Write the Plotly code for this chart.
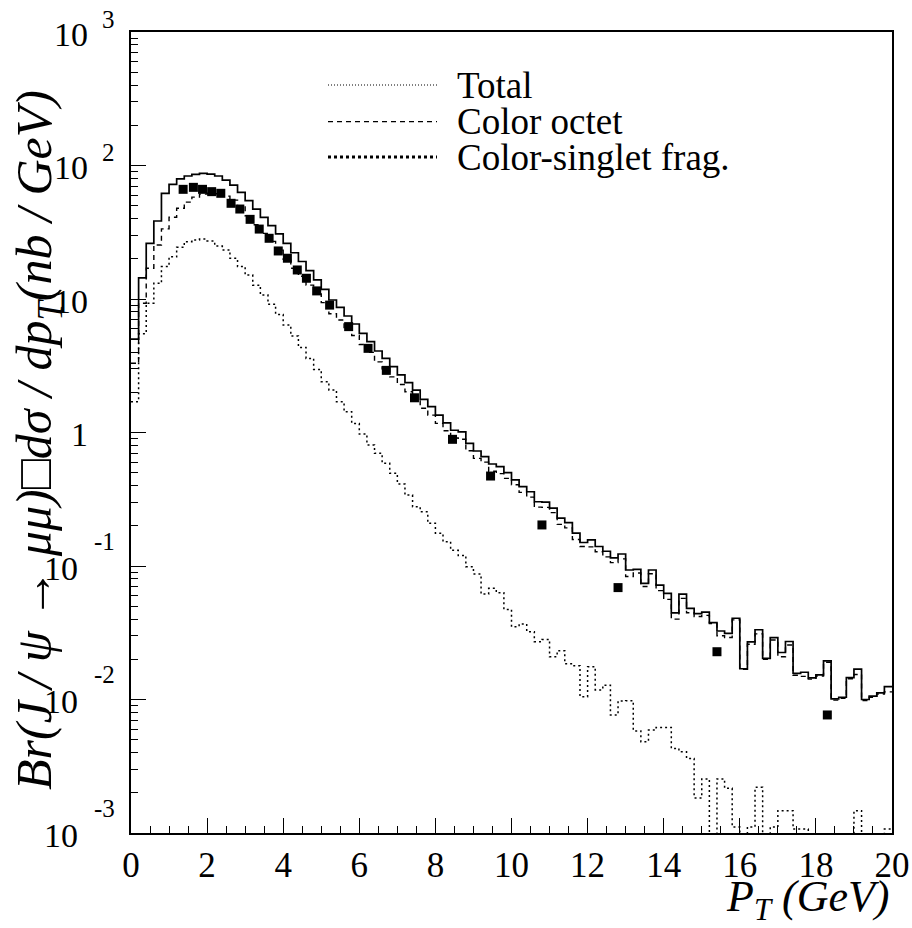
import plotly.graph_objects as go

# ---------------- data ----------------
bin_width = 0.2
n_bins = 100
bin_edges = [round(i * bin_width, 2) for i in range(n_bins + 1)]

# solid histogram (total)
total = [5.0, 14.4, 26.1, 38.4, 61.9, 72.2, 79.3, 83.4, 85.9, 87.3,
         86.3, 83.4, 77.8, 71.4, 63.0, 54.5, 47.2, 40.9, 35.5, 30.7,
         26.1, 22.2, 19.1, 16.3, 13.9, 11.8, 9.83, 8.66, 7.46, 6.50,
         5.53, 4.79, 4.08, 3.59, 3.11, 2.70, 2.36, 2.08, 1.77, 1.56,
         1.35, 1.18, 1.04, 1.01, 0.83, 0.727, 0.659, 0.581, 0.555, 0.500,
         0.441, 0.393, 0.360, 0.303, 0.301, 0.271, 0.228, 0.211, 0.176, 0.150,
         0.157, 0.140, 0.129, 0.115, 0.123, 0.0933, 0.0944, 0.0740, 0.0933, 0.0718,
         0.0624, 0.0445, 0.0615, 0.0482, 0.0440, 0.0452, 0.0377, 0.0326, 0.0313, 0.0406,
         0.0170, 0.0270, 0.0333, 0.0203, 0.0291, 0.0225, 0.0272, 0.0157, 0.0160, 0.0145,
         0.0153, 0.0195, 0.0101, 0.0104, 0.0146, 0.0169, 0.0100, 0.0106, 0.0112, 0.0125]

# dashed histogram (colour octet)
octet = [3.3, 9.3, 17.0, 25.4, 33.5, 41.0, 47.8, 53.2, 58.0, 61.0,
         61.9, 61.5, 59.0, 55.0, 49.0, 42.0, 36.0, 31.0, 27.0, 23.2,
         19.8, 17.0, 14.8, 12.7, 10.9, 9.4, 7.75, 6.96, 6.03, 5.33,
         4.56, 3.98, 3.38, 3.00, 2.61, 2.29, 2.02, 1.80, 1.52, 1.35,
         1.17, 1.03, 0.91, 0.89, 0.73, 0.64, 0.60, 0.513, 0.492, 0.453,
         0.406, 0.356, 0.328, 0.276, 0.275, 0.251, 0.205, 0.193, 0.158, 0.140,
         0.139, 0.128, 0.117, 0.106, 0.113, 0.0835, 0.0886, 0.0702, 0.0874, 0.0654,
         0.0562, 0.0400, 0.0572, 0.0446, 0.0418, 0.0427, 0.0370, 0.0300, 0.0291, 0.0395,
         0.0168, 0.0259, 0.0310, 0.0200, 0.0279, 0.0209, 0.0256, 0.0152, 0.0149, 0.0142,
         0.0150, 0.0190, 0.0099, 0.0102, 0.0143, 0.0154, 0.0098, 0.0104, 0.0110, 0.0114]

# dotted histogram (colour-singlet fragmentation); 0 = empty bin
singlet = [1.7, 5.5, 9.3, 13.1, 17.5, 20.7, 24.4, 26.9, 27.7, 28.1,
           27.2, 24.9, 23.3, 20.2, 17.5, 15.1, 12.7, 10.7, 9.12, 7.67,
           6.38, 5.28, 4.34, 3.59, 2.97, 2.40, 2.08, 1.70, 1.43, 1.17,
           0.975, 0.807, 0.699, 0.588, 0.495, 0.411, 0.340, 0.278, 0.255, 0.209,
           0.176, 0.152, 0.131, 0.120, 0.0988, 0.0871, 0.0617, 0.0680, 0.0631, 0.0473,
           0.0351, 0.0368, 0.0322, 0.0271, 0.0282, 0.0209, 0.0232, 0.0185, 0.0179, 0.0105,
           0.0176, 0.0118, 0.0128, 0.00766, 0.00975, 0.0098, 0.00582, 0.00483, 0.00590, 0.00618,
           0.00618, 0.00430, 0.00406, 0.00362, 0.00183, 0.00254, 0, 0.00254, 0.00216, 0.00111,
           0, 0.00111, 0.00220, 0, 0.00111, 0.00147, 0.00147, 0.00107, 0.00107, 0,
           0, 0, 0, 0, 0, 0.00147, 0, 0, 0, 0.00107]

# data points (filled squares)
data_pt = [1.37, 1.64, 1.88, 2.12, 2.36, 2.63, 2.86, 3.13, 3.37, 3.63,
           3.87, 4.11, 4.37, 4.61, 4.88, 5.22, 5.72, 6.23, 6.71, 7.45,
           8.45, 9.45, 10.8, 12.8, 15.4, 18.3]
data_val = [66.3, 68.6, 66.3, 63.7, 61.9, 52.1, 47.2, 39.5, 33.4, 28.5,
            22.9, 20.2, 16.5, 14.3, 11.5, 9.0, 6.21, 4.27, 2.92, 1.82,
            0.889, 0.472, 0.203, 0.0689, 0.0228, 0.00766]

x_ticks = list(range(0, 21, 2))
y_decades = [-3, -2, -1, 0, 1, 2, 3]
legend_labels = ["Total", "Color octet", "Color-singlet frag."]

FONT = "Liberation Serif"

# ---------------- figure ----------------
fig = go.Figure()


def hist_trace(vals, dash, width):
    # ROOT draws empty bins down to the axis: push them below the visible range
    yv = [v if v > 0 else 1e-6 for v in vals]
    return go.Scatter(x=bin_edges, y=yv + [yv[-1]], mode="lines",
                      line=dict(shape="hv", color="black", dash=dash, width=width),
                      showlegend=False, hoverinfo="skip")


fig.add_trace(hist_trace(singlet, "2px,3px", 1.5))
fig.add_trace(hist_trace(octet, "5px,4px", 1.4))
fig.add_trace(hist_trace(total, "solid", 1.7))
fig.add_trace(go.Scatter(x=data_pt, y=data_val, mode="markers",
                         marker=dict(symbol="square", size=9, color="black"),
                         showlegend=False, hoverinfo="skip"))

# plot area in pixels: x 131..892, y 32..833
L, R, T, B = 131, 892, 32, 833
PW, PH = R - L, B - T


def px_x(p):
    return (p - L) / PW


def px_y(p):
    return (B - p) / PH


annotations = []
# y decade labels in ROOT style
for d in y_decades:
    if d in (0, 1):
        annotations.append(dict(x=px_x(90), y=d, xref="paper", yref="y",
                                text="1" if d == 0 else "10",
                                xanchor="right", yanchor="middle", showarrow=False, yshift=-2,
                                font=dict(family=FONT, size=34, color="black")))
    else:
        base_r = 90 if d > 0 else 80
        exp_l = 100 if d > 0 else 92
        exp_up = 15 if d > 0 else 27
        annotations.append(dict(x=px_x(base_r), y=d, xref="paper", yref="y", text="10",
                                xanchor="right", yanchor="middle", showarrow=False, yshift=-2,
                                font=dict(family=FONT, size=34, color="black")))
        annotations.append(dict(x=px_x(exp_l), y=d, xref="paper", yref="y", text=str(d),
                                xanchor="left", yanchor="middle", showarrow=False,
                                yshift=-2 + exp_up,
                                font=dict(family=FONT, size=25, color="black")))

# axis titles
annotations.append(dict(x=px_x(38), y=px_y(440), xref="paper", yref="paper",
                        text="<i>Br(J / ψ → μμ)□dσ / dp<sub>T</sub>(nb / GeV)</i>",
                        textangle=-90, showarrow=False, xanchor="center", yanchor="middle",
                        font=dict(family=FONT, size=50, color="black")))
annotations.append(dict(x=px_x(892), y=px_y(899), xref="paper", yref="paper",
                        text="<i>P<sub>T</sub> (GeV)</i>",
                        showarrow=False, xanchor="right", yanchor="middle",
                        font=dict(family=FONT, size=44, color="black")))

# legend (drawn by hand as in the original)
leg_y = [85, 121.7, 157]
leg_styles = [("1px,2px", 1.0), ("5px,4px", 1.3), ("3px,3px", 3.0)]
shapes = []
for lab, yy, (dsh, w) in zip(legend_labels, leg_y, leg_styles):
    shapes.append(dict(type="line", xref="paper", yref="paper",
                       x0=px_x(328), x1=px_x(437), y0=px_y(yy), y1=px_y(yy),
                       line=dict(color="black", width=w, dash=dsh)))
    annotations.append(dict(x=px_x(455), y=px_y(yy), xref="paper", yref="paper",
                            text=lab, showarrow=False, xanchor="left", yanchor="middle",
                            font=dict(family=FONT, size=37, color="black")))

fig.update_layout(
    width=912, height=928,
    margin=dict(l=L, r=912 - R, t=T, b=928 - B, autoexpand=False),
    paper_bgcolor="white", plot_bgcolor="white",
    showlegend=False,
    annotations=annotations, shapes=shapes,
    font=dict(family=FONT, color="black"),
)
fig.update_xaxes(range=[0, 20], tickvals=x_ticks, ticktext=[str(v) for v in x_ticks],
                 ticks="inside", ticklen=15, tickwidth=1.3, tickcolor="black",
                 minor=dict(dtick=0.5, tick0=0, ticks="inside", ticklen=7, tickwidth=1.3,
                            tickcolor="black", showgrid=False),
                 showline=True, linecolor="black", linewidth=1.6, mirror=True,
                 showgrid=False, zeroline=False, automargin=False,
                 tickfont=dict(family=FONT, size=35, color="black"))
minor_y = [m * 10 ** d for d in y_decades[:-1] for m in range(2, 10)]
fig.update_yaxes(type="log", range=[-3, 3], tickvals=[10 ** d for d in y_decades],
                 showticklabels=False,
                 ticks="inside", ticklen=15, tickwidth=1.3, tickcolor="black",
                 minor=dict(tickmode="array", tickvals=minor_y, ticks="inside", ticklen=7,
                            tickwidth=1.3, tickcolor="black", showgrid=False),
                 showline=True, linecolor="black", linewidth=1.6, mirror=True,
                 showgrid=False, zeroline=False, automargin=False)

fig.write_html("out.html", config={"displayModeBar": False},
               post_script="document.body.style.margin='0';")
